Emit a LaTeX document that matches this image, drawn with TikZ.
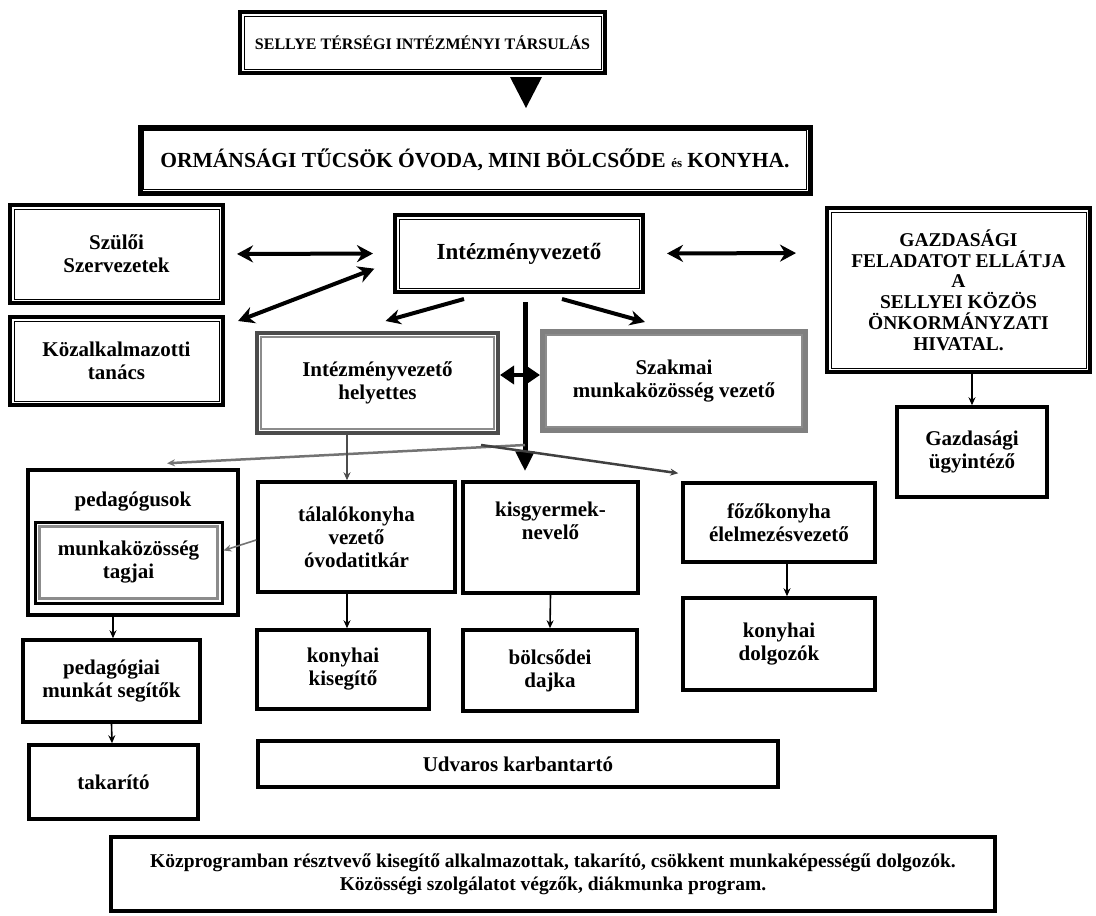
\documentclass[tikz,border=0pt]{standalone}
\usepackage{fontspec}
\setmainfont{Liberation Serif}
\usetikzlibrary{arrows.meta}
\usetikzlibrary{positioning}
\tikzset{x=1pt, y=-1pt, % picture measured in pixels, top down
every node/.style={ % Sets the text of every box
font=\bfseries\fontsize{21}{23}\selectfont,
align=center},
dbox/.style={ % framed box, inner line added below
draw, line width=4pt},
sbox/.style={ % plain thick frame
draw, line width=3.5pt},
gbox/.style={ % grey framed box
draw=black!70, line width=4pt},
frame/.style={line width=1pt},
gframe/.style={draw=black!45, line width=2.5pt},
bigdbl/.style={ % Makes the thick two-way arrows
line width=4pt, {Stealth[length=16pt,width=17pt]}-{Stealth[length=16pt,width=17pt]}},
bigarr/.style={line width=4pt, -{Stealth[length=15pt,width=15pt]}},
link/.style={line width=1.6pt, -{Stealth[length=8pt,width=7pt]}},
glink/.style={link, draw=black!55}}

\begin{document}
\begin{tikzpicture}
\useasboundingbox (0,0) rectangle (1096,916);
\node[dbox, minimum width=365pt, minimum height=61pt, font=\bfseries\fontsize{16}{18}\selectfont] (top) at (422.5,42.5) {SELLYE TÉRSÉGI INTÉZMÉNYI TÁRSULÁS};
\node[dbox, line width=5pt, minimum width=670pt, minimum height=66pt, font=\bfseries\fontsize{21.5}{24}\selectfont] (ovoda) at (475,160) {ORMÁNSÁGI TŰCSÖK ÓVODA, MINI BÖLCSŐDE {\fontsize{13}{15}\selectfont és} KONYHA.};
\node[dbox, minimum width=213pt, minimum height=98pt] (szuloi) at (116.5,254) {Szülői\\Szervezetek};
\node[dbox, minimum width=248pt, minimum height=77pt, font=\bfseries\fontsize{23}{25}\selectfont] (vez) at (519,253.5) {Intézményvezető};
\node[dbox, minimum width=263pt, minimum height=164pt, font=\bfseries\fontsize{19.5}{20.8}\selectfont] (gazd) at (958.5,290) {GAZDASÁGI\\FELADATOT ELLÁTJA\\A\\SELLYEI KÖZÖS\\ÖNKORMÁNYZATI\\HIVATAL.};
\node[sbox, minimum width=150pt, minimum height=90pt] (ugyint) at (972,452) {Gazdasági\\ügyintéző};
\node[dbox, minimum width=213pt, minimum height=88pt] (kozalk) at (116.5,361) {Közalkalmazotti\\tanács};
\node[gbox, minimum width=241pt, minimum height=100pt] (helyett) at (377.5,383) {Intézményvezető\\helyettes};
\node[gbox, draw=black!50, line width=6pt, minimum width=262pt, minimum height=98pt] (szakmai) at (674,381) {Szakmai\\munkaközösség vezető};
\node[sbox, minimum width=210pt, minimum height=145pt, label={[anchor=north, yshift=-20pt]north:pedagógusok}] (pedag) at (133,542.5) {};
\node[sbox, line width=3pt, minimum width=187pt, minimum height=81pt] (tagjai) at (128.5,562.5) {munkaközösség\\tagjai};
\node[sbox, minimum width=197pt, minimum height=110pt] (talalo) at (356.5,537) {tálalókonyha\\vezető\\óvodatitkár};
\node[sbox, minimum width=175pt, minimum height=111pt] (kisgy) at (550.5,537.5) {kisgyermek-\\nevelő\\[10pt]};
\node[sbox, minimum width=192pt, minimum height=79pt] (fozo) at (779,522.5) {főzőkonyha\\élelmezésvezető};
\node[sbox, minimum width=192pt, minimum height=92pt] (dolg) at (779,644) {konyhai\\dolgozók};
\node[sbox, minimum width=172pt, minimum height=79pt] (kiseg) at (343,669.5) {konyhai\\kisegítő};
\node[sbox, minimum width=174pt, minimum height=81pt] (dajka) at (550,670.5) {bölcsődei\\dajka};
\node[sbox, minimum width=520pt, minimum height=46pt] (udvar) at (518,764) {Udvaros karbantartó};
\node[sbox, minimum width=177pt, minimum height=82pt] (pedsegit) at (111.5,681) {pedagógiai\\munkát segítők};
\node[sbox, minimum width=169pt, minimum height=74pt] (takar) at (113.5,782) {takarító};
\node[sbox, minimum width=884pt, minimum height=74pt, font=\bfseries\fontsize{19.5}{23}\selectfont] (kozprog) at (553,874) {Közprogramban résztvevő kisegítő alkalmazottak, takarító, csökkent munkaképességű dolgozók.\\Közösségi szolgálatot végzők, diákmunka program.};
% inner lines of the framed boxes
\foreach \n in {top,ovoda,szuloi,vez,gazd,kozalk}
  \draw[frame] ([shift={(6pt,-6pt)}]\n.north west) rectangle ([shift={(-6pt,6pt)}]\n.south east);
\foreach \n in {helyett,szakmai,tagjai}
  \draw[gframe] ([shift={(6pt,-6pt)}]\n.north west) rectangle ([shift={(-6pt,6pt)}]\n.south east);
% arrows
\coordinate (tri) at (526,108);
\fill (tri) -- ++(-16,-31) -- ++(32,0) -- cycle;
\draw[bigdbl, shorten <=12pt, shorten >=20pt] (szuloi.east) -- (vez.west);
\draw[bigdbl, shorten <=22pt, shorten >=29pt] (vez.east) -- ([yshift=37pt]gazd.west);
\draw[bigdbl, shorten <=14pt, shorten >=20pt] ([yshift=-11pt]kozalk.north east) -- ([yshift=-8pt]vez.west);
\draw[bigarr] ([xshift=-55pt,yshift=-5pt]vez.south) -- ([xshift=8pt,yshift=10pt]helyett.north);
\draw[bigarr] ([xshift=43pt,yshift=-5pt]vez.south) -- ([xshift=-29pt,yshift=7pt]szakmai.north);
\coordinate (split) at (525,445);
\draw[line width=5pt] ([xshift=6pt,yshift=-8pt]vez.south) -- (split);
\draw[line width=5pt, -{Triangle[length=20pt,width=18pt]}] (split) -- ([xshift=-25.5pt,yshift=9pt]kisgy.north);
\draw[bigdbl, {Triangle[length=14pt,width=18pt]}-{Triangle[length=14pt,width=18pt]}] ([yshift=8pt]helyett.east) -- ([yshift=6pt]szakmai.west);
\draw[glink, line width=2.5pt] (split) -- ([xshift=34pt,yshift=5pt]pedag.north);
\draw[link, line width=2.5pt, draw=black!75] ([xshift=-19pt,yshift=-10pt]helyett.south east) -- ([xshift=-3pt,yshift=8pt]fozo.north west);
\draw[link, line width=2.5pt, draw=black!70] ([xshift=-30.5pt]helyett.south) -- ([xshift=-9.5pt]talalo.north);
\draw[glink] ([yshift=-3pt]talalo.west) -- ([yshift=12pt]tagjai.east);
\draw[link] ([xshift=-20pt]pedag.south) -- ([xshift=1.5pt]pedsegit.north);
\draw[link] (pedsegit.south) -- ([xshift=-1.5pt]takar.north);
\draw[link] ([xshift=-9.5pt]talalo.south) -- ([xshift=4pt]kiseg.north);
\draw[link] (kisgy.south) -- (dajka.north);
\draw[link] ([xshift=8pt]fozo.south) -- ([xshift=8pt]dolg.north);
\draw[link] ([xshift=13.5pt]gazd.south) -- (ugyint.north);
\end{tikzpicture}
\end{document}
